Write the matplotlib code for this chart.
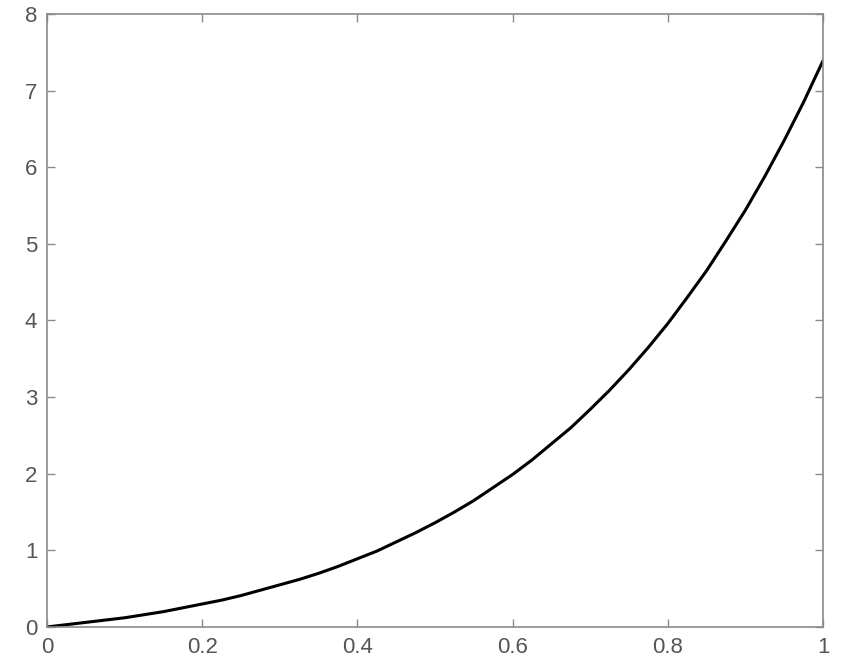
import matplotlib
matplotlib.use('Agg')
import matplotlib.pyplot as plt

# values
x_vals = [0.0, 0.025, 0.05, 0.075, 0.1, 0.125, 0.15, 0.175, 0.2, 0.225,
          0.25, 0.275, 0.3, 0.325, 0.35, 0.375, 0.4, 0.425, 0.45, 0.475,
          0.5, 0.525, 0.55, 0.575, 0.6, 0.625, 0.65, 0.675, 0.7, 0.725,
          0.75, 0.775, 0.8, 0.825, 0.85, 0.875, 0.9, 0.925, 0.95, 0.975, 1.0]
y_vals = [0.0, 0.03, 0.06, 0.09, 0.12, 0.16, 0.20, 0.25, 0.30, 0.35,
          0.41, 0.48, 0.55, 0.62, 0.70, 0.79, 0.89, 0.99, 1.11, 1.23,
          1.36, 1.50, 1.65, 1.82, 1.99, 2.18, 2.39, 2.60, 2.84, 3.09,
          3.36, 3.65, 3.96, 4.30, 4.65, 5.04, 5.44, 5.88, 6.35, 6.85, 7.39]
x_ticks = [0, 0.2, 0.4, 0.6, 0.8, 1]
x_ticklabels = ['0', '0.2', '0.4', '0.6', '0.8', '1']
y_ticks = [0, 1, 2, 3, 4, 5, 6, 7, 8]

plt.rcParams['font.family'] = ['Liberation Sans', 'DejaVu Sans']

fig = plt.figure(figsize=(8.41, 6.66), dpi=100)
ax = fig.add_axes([0.0559, 0.0586, 0.9227, 0.9204])

ax.plot(x_vals, y_vals, color='black', linewidth=2.2, solid_capstyle='round')

ax.set_xlim(0, 1)
ax.set_ylim(0, 8)
ax.set_xticks(x_ticks)
ax.set_xticklabels(x_ticklabels)
ax.set_yticks(y_ticks)

# MATLAB-style box with inward ticks on all sides
for s in ax.spines.values():
    s.set_color('#8a8a8a')
    s.set_linewidth(1.2)
ax.tick_params(direction='in', length=6, width=1, color='#8a8a8a',
               labelcolor='#555555', labelsize=16,
               top=True, right=True, pad=7)

fig.savefig('out.png', dpi=100)
